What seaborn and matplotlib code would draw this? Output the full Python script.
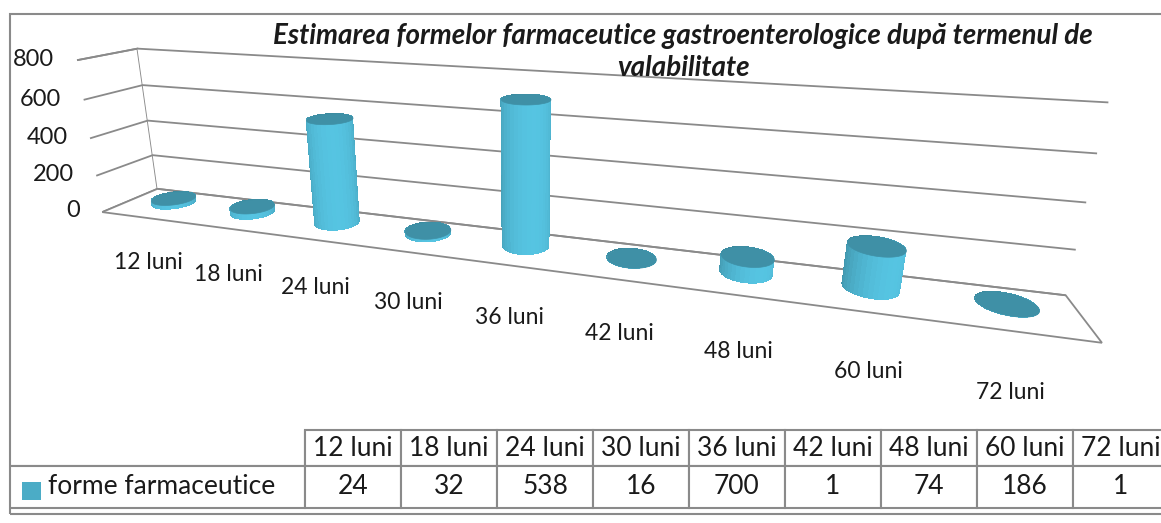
"""
Estimarea formelor farmaceutice gastroenterologice - grafic 3D cu cilindri si tabel de date
"""
import numpy as np
import matplotlib
matplotlib.use('Agg')
import matplotlib.pyplot as plt
from matplotlib.patches import Rectangle
from matplotlib.colors import to_rgb
from mpl_toolkits.mplot3d.art3d import Poly3DCollection
import seaborn as sns

# date
luni = ['12 luni', '18 luni', '24 luni', '30 luni', '36 luni',
        '42 luni', '48 luni', '60 luni', '72 luni']
forme = [24, 32, 538, 16, 700, 1, 74, 186, 1]
axa_valori = [0, 200, 400, 600, 800]
serie = 'forme farmaceutice'
titlu = 'Estimarea formelor farmaceutice gastroenterologice după termenul de\nvalabilitate'

sns.set_theme(style='white')
plt.rcParams['font.family'] = ['Lato', 'DejaVu Sans']
plt.rcParams['grid.color'] = '#8a8a8a'
plt.rcParams['grid.linewidth'] = 1.3

culoare = sns.color_palette(['#4bacc6'])[0]
capac = '#3f90a6'
gri = '#8a8a8a'
negru = '#1a1a1a'

W, H = 1161, 523
fig = plt.figure(figsize=(W / 100, H / 100), dpi=100)

# chenarul exterior
fig.patches.append(Rectangle((10 / W, 1 - 514 / H), 1.2, (514 - 14) / H,
                             transform=fig.transFigure, fill=False,
                             edgecolor=gri, linewidth=1.5))

# --- graficul 3D ---
ADANC = 0.8   # adancimea podelei (unitati de categorie)
ax = fig.add_axes([-0.055, 0.22, 1.0, 0.9], projection='3d', computed_zorder=False)
ax.set_proj_type('persp', focal_length=0.31)
ax.view_init(elev=17, azim=-72.5)
ax.set_box_aspect((len(luni), ADANC, 1.6), zoom=2.1)
ax.set_xlim(-0.5, len(luni) - 0.5)
ax.set_ylim(0, 1)
ax.set_zlim(0, 800)

ax.grid(True)
ax.set_xticks([])
ax.set_yticks([])
ax.set_zticks(axa_valori)
ax.set_zticklabels([])
for axis in (ax.xaxis, ax.yaxis, ax.zaxis):
    axis.set_pane_color((1, 1, 1, 1))
    axis.line.set_color((0, 0, 0, 0))
    axis.label.set_visible(False)
    axis.offsetText.set_visible(False)
    axis._axinfo['tick']['inward_factor'] = 0
    axis._axinfo['tick']['outward_factor'] = 0
ax.xaxis.pane.set_edgecolor(gri)
ax.yaxis.pane.set_edgecolor((1, 1, 1, 0))
ax.zaxis.pane.set_edgecolor(gri)
ax.zaxis.pane.set_linewidth(1.3)
ax.xaxis.pane.set_linewidth(1.3)

# cilindri
r = 0.22
ry = r / ADANC
yc = 0.6
theta = np.linspace(0, 2 * np.pi, 73)
baza = np.array(to_rgb(culoare))
lum = 0.5 + 0.5 * np.cos(theta + np.radians(60))
cul = np.clip(baza[None, :] * (0.8 + 0.34 * lum[:, None]), 0, 1)
for i, v in enumerate(forme):
    h = max(v, 2)
    T, Z = np.meshgrid(theta, [0, h])
    X = i + r * np.cos(T)
    Y = yc + ry * np.sin(T)
    fc = np.ones(X.shape + (4,))
    fc[:, :, :3] = cul[None, :, :]
    s = ax.plot_surface(X, Y, Z, facecolors=fc, shade=False, linewidth=0,
                        antialiased=False, zorder=10 + 2 * i)
    s.set_clip_on(False)
    top = list(zip(i + r * np.cos(theta), yc + ry * np.sin(theta), np.full_like(theta, h)))
    c = Poly3DCollection([top], facecolor=capac, edgecolor=capac,
                         linewidth=0.5, zorder=11 + 2 * i)
    ax.add_collection3d(c)
    c.set_clip_on(False)

# etichete categorii (sub marginea din fata a podelei) si valori
for i, lab in enumerate(luni):
    ax.text(i, 0, -255, lab, ha='center', va='center', fontsize=16.5, color=negru)
for v in axa_valori:
    ax.text(-0.75, -0.05, v, str(v), ha='right', va='center', fontsize=17, color=negru)

fig.text(683 / W, 1 - 52 / H, titlu, ha='center', va='center', fontsize=20,
         fontweight='bold', fontstyle='italic', linespacing=1.3, color=negru)

# --- tabelul de date ---
tab_ax = fig.add_axes([0, 0, 1, 1])
tab_ax.axis('off')
celule = [[serie] + [str(v) for v in forme]]
tabel = tab_ax.table(cellText=celule, colLabels=[''] + luni,
                     colWidths=[295] + [96] * len(luni),
                     cellLoc='center',
                     bbox=[10 / W, 1 - 508 / H, (295 + 96 * len(luni)) / W, 78 / H])
tabel.auto_set_font_size(False)
for (rand, col), cel in tabel.get_celld().items():
    cel.set_edgecolor(gri)
    cel.set_linewidth(1.5)
    cel.set_height(36 if rand == 0 else 42)
    cel.get_text().set_fontsize(19)
    cel.get_text().set_color(negru)
    if col == 0:
        cel.get_text().set_ha('left')
        cel._loc = 'left'
        cel.PAD = 0.13
tabel[0, 0].visible_edges = 'BR'
tabel[1, 0].visible_edges = 'TRB'
fig.patches.append(Rectangle((22 / W, 1 - 500 / H), 19 / W, 18 / H,
                             transform=fig.transFigure, facecolor=culoare, edgecolor='none'))

fig.savefig('out.png', dpi=100)
